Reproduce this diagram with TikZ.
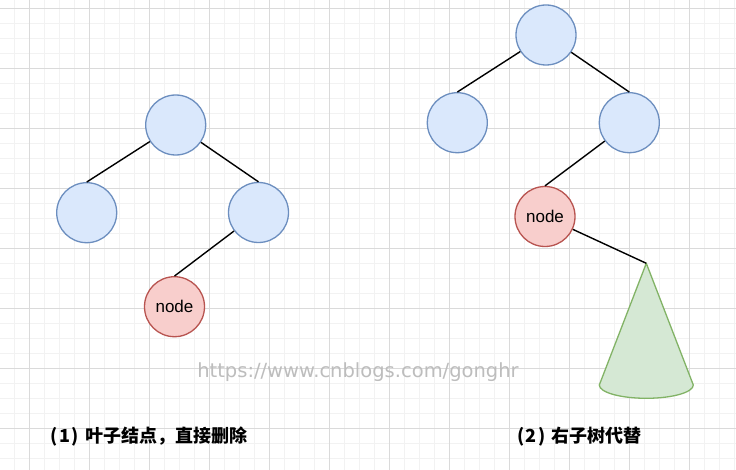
\documentclass[tikz,border=0pt]{standalone}
\usepackage{fontspec}
\setmainfont{Liberation Sans}
\newfontfamily\cjkfont{Noto Sans CJK SC}
\newfontfamily\wmfont{DejaVu Sans}
\definecolor{bluefill}{HTML}{DAE8FC}
\definecolor{bluedraw}{HTML}{6C8EBF}
\definecolor{redfill}{HTML}{F8CECC}
\definecolor{reddraw}{HTML}{B85450}
\definecolor{greenfill}{HTML}{D5E8D4}
\definecolor{greendraw}{HTML}{82B366}
\definecolor{gridmajor}{HTML}{DADADA}
\definecolor{gridminor}{HTML}{F2F2F2}
\definecolor{wmgray}{HTML}{BDBDBD}
\begin{document}
\begin{tikzpicture}[x=1pt,y=-1pt,
  bluenode/.style={circle,draw=bluedraw,fill=bluefill,line width=1.3pt,minimum size=60pt,inner sep=0pt},
  rednode/.style={circle,draw=reddraw,fill=redfill,line width=1.3pt,minimum size=60pt,inner sep=0pt,font=\fontsize{17}{17}\selectfont},
  edge/.style={draw=black,line width=1.4pt},
  conestyle/.style={draw=greendraw,fill=greenfill,line width=1.3pt,line join=round},
  caption/.style={anchor=west,inner sep=0pt,font=\cjkfont\bfseries\fontsize{18}{18}\selectfont},
]
\useasboundingbox (0,0) rectangle (736,470);
\fill[white] (0,0) rectangle (736,470);
% grid
\foreach \i in {0,...,49} {
  \draw[gridminor,line width=0.8pt] ({-0.3+15*\i},0) -- ({-0.3+15*\i},470);
}
\foreach \i in {0,...,31} {
  \draw[gridminor,line width=0.8pt] (0,{8.3+15*\i}) -- (736,{8.3+15*\i});
}
\foreach \i in {0,...,12} {
  \draw[gridmajor,line width=0.9pt] ({29.7+60*\i},0) -- ({29.7+60*\i},470);
}
\foreach \i in {0,...,7} {
  \draw[gridmajor,line width=0.9pt] (0,{8.3+60*\i}) -- (736,{8.3+60*\i});
}
% watermark
\node[inner sep=0pt,text=wmgray,font=\wmfont\fontsize{19.5}{19.5}\selectfont] (wm) at (358,372.5) {https://www.cnblogs.com/gonghr};
% left tree
\node[bluenode] (r1) at (175.7,125) {};
\node[bluenode] (a1) at (86.7,212.7) {};
\node[bluenode] (b1) at (258.5,212.5) {};
\node[rednode] (n1) at (174.5,306.7) {node};
\draw[edge] (r1) -- (a1.north);
\draw[edge] (r1) -- (b1.north);
\draw[edge] (b1) -- (n1.north);
% right tree
\node[bluenode] (r2) at (546,35) {};
\node[bluenode] (a2) at (457.3,122.7) {};
\node[bluenode] (b2) at (629.3,122.7) {};
\node[rednode] (n2) at (545,216.5) {node};
\coordinate (apex) at (646.3,263.3);
\draw[edge] (r2) -- (a2.north);
\draw[edge] (r2) -- (b2.north);
\draw[edge] (b2) -- (n2.north);
\draw[conestyle] (apex) -- (599.3,385) arc[start angle=180,end angle=360,x radius=47pt,y radius=13.3pt] -- cycle;
\draw[edge] (n2) -- (apex);
% captions
\node[caption] (c1) at (50.5,436.5) {(\hspace{1.5pt}1\hspace{1.5pt})\hspace{6pt}叶子结点，直接删除};
\node[caption] (c2) at (517,436.5) {(\hspace{1.5pt}2\hspace{1.5pt})\hspace{6pt}右子树代替};
\end{tikzpicture}
\end{document}
